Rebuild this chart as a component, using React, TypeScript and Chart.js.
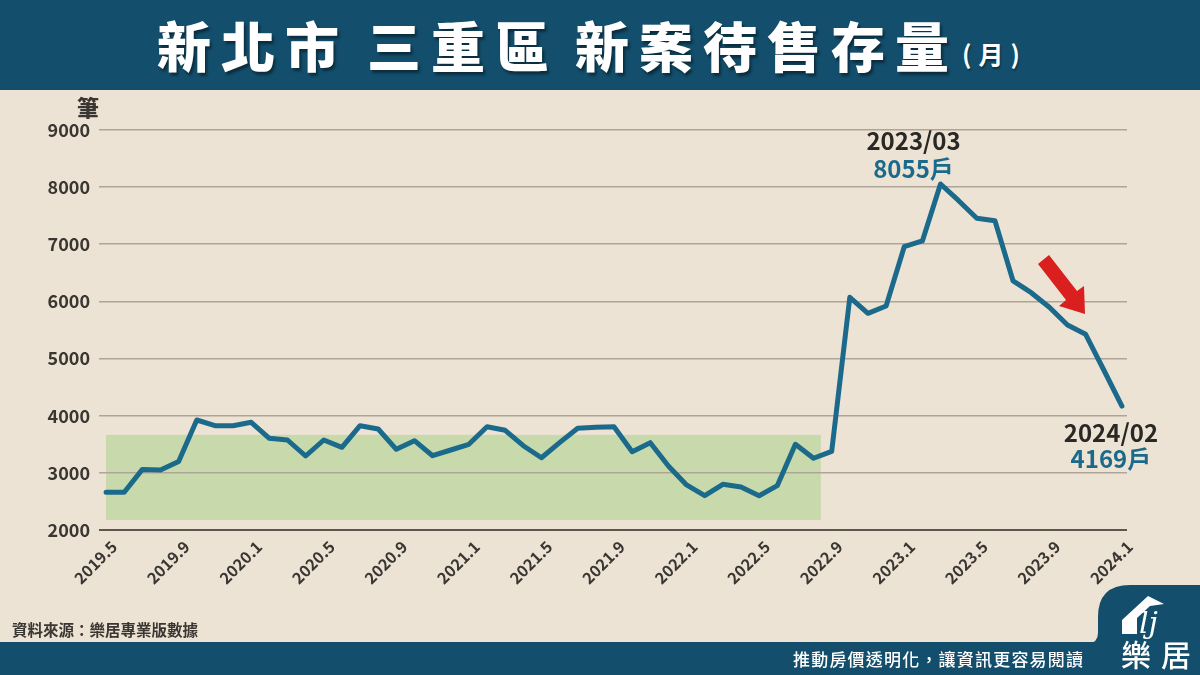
import React, { useEffect, useRef } from 'react';
import { Chart, registerables } from 'chart.js';

Chart.register(...registerables);

// ---------- data ----------
const MONTHS = [
  '2019.5', '2019.6', '2019.7', '2019.8', '2019.9', '2019.10', '2019.11', '2019.12',
  '2020.1', '2020.2', '2020.3', '2020.4', '2020.5', '2020.6', '2020.7', '2020.8', '2020.9', '2020.10', '2020.11', '2020.12',
  '2021.1', '2021.2', '2021.3', '2021.4', '2021.5', '2021.6', '2021.7', '2021.8', '2021.9', '2021.10', '2021.11', '2021.12',
  '2022.1', '2022.2', '2022.3', '2022.4', '2022.5', '2022.6', '2022.7', '2022.8', '2022.9', '2022.10', '2022.11', '2022.12',
  '2023.1', '2023.2', '2023.3', '2023.4', '2023.5', '2023.6', '2023.7', '2023.8', '2023.9', '2023.10', '2023.11', '2023.12',
  '2024.1',
];

const INVENTORY = [
  2660, 2660, 3060, 3050, 3200, 3925, 3825, 3825,
  3885, 3605, 3575, 3295, 3575, 3447, 3825, 3767, 3412, 3563, 3300, 3400,
  3500, 3808, 3745, 3475, 3265, 3528, 3780, 3797, 3808, 3370, 3528, 3120,
  2788, 2600, 2800, 2753, 2600, 2776, 3500, 3255, 3375, 6072, 5792, 5920,
  6958, 7058, 8055, 7763, 7455, 7413, 6358, 6153, 5897, 5588, 5425, 4800,
  4169,
];

const TICK_LABELS = [
  '2019.5', '2019.9', '2020.1', '2020.5', '2020.9', '2021.1', '2021.5', '2021.9',
  '2022.1', '2022.5', '2022.9', '2023.1', '2023.5', '2023.9', '2024.1',
];

const Y_MIN = 2000;
const Y_MAX = 9000;
const Y_STEP = 1000;

// shaded "flat period" band: month-index range and value range
const BAND_X = [0, 39.4];
const BAND_Y = [2175, 3665];

// callouts
const CALLOUT_INDEX = [46, 56];
const CALLOUT_DATES = ['2023/03', '2024/02'];
const CALLOUT_VALUES = [8055, 4169];

// ---------- style ----------
const FONT = '"Noto Sans CJK TC", "Noto Sans", sans-serif';
const BG = '#ece3d5';
const NAVY = '#134f6d';
const LINE = '#1c6a8b';
const TEXT = '#3a3631';
const GRID = '#aea598';
const AXIS = '#5d574f';
const BAND = '#c8daab';

export default function App() {
  const canvasRef = useRef<HTMLCanvasElement | null>(null);

  useEffect(() => {
    document.body.style.margin = '0';
    const canvas = canvasRef.current;
    if (!canvas) return;

    const bandPlugin = {
      id: 'band',
      beforeDraw(chart: any) {
        const { ctx, scales } = chart;
        const x0 = scales.x.getPixelForValue(BAND_X[0]);
        const x1 = scales.x.getPixelForValue(BAND_X[1]);
        const y0 = scales.y.getPixelForValue(BAND_Y[1]);
        const y1 = scales.y.getPixelForValue(BAND_Y[0]);
        ctx.save();
        ctx.fillStyle = BAND;
        ctx.fillRect(x0, y0, x1 - x0, y1 - y0);
        ctx.restore();
      },
    };

    const calloutPlugin = {
      id: 'callouts',
      afterDatasetsDraw(chart: any) {
        const { ctx, scales } = chart;
        ctx.save();
        ctx.textAlign = 'center';
        ctx.textBaseline = 'alphabetic';
        const offsets = [
          { dx: -27, dDate: -34, dVal: -6 },
          { dx: -11, dDate: 36, dVal: 62 },
        ];
        CALLOUT_INDEX.forEach((idx, k) => {
          const px = scales.x.getPixelForValue(idx);
          const py = scales.y.getPixelForValue(INVENTORY[idx]);
          const o = offsets[k];
          ctx.font = `bold 24px ${FONT}`;
          ctx.fillStyle = '#2a2825';
          ctx.fillText(CALLOUT_DATES[k], px + o.dx, py + o.dDate);
          ctx.fillStyle = LINE;
          ctx.fillText(`${CALLOUT_VALUES[k]}戶`, px + o.dx, py + o.dVal);
        });
        ctx.restore();
      },
    };

    const chart = new Chart(canvas, {
      type: 'line',
      data: {
        datasets: [
          {
            data: MONTHS.map((m, i) => ({ x: i, y: INVENTORY[i] })),
            borderColor: LINE,
            borderWidth: 5,
            pointRadius: 0,
            tension: 0,
            borderJoinStyle: 'round',
            borderCapStyle: 'round',
            clip: false,
          } as any,
        ],
      },
      options: {
        animation: false,
        responsive: true,
        maintainAspectRatio: false,
        layout: { padding: { top: 130, right: 73, bottom: 45, left: 0 } },
        plugins: {
          legend: { display: false },
          tooltip: { enabled: false },
        },
        scales: {
          x: {
            type: 'linear',
            min: -0.39,
            max: 56.28,
            afterBuildTicks: (scale: any) => {
              scale.ticks = TICK_LABELS.map((l) => ({ value: MONTHS.indexOf(l) }));
            },
            afterFit: (scale: any) => {
              scale.height = 100;
            },
            ticks: {
              autoSkip: false,
              maxRotation: 45,
              minRotation: 45,
              padding: 7,
              labelOffset: 8,
              color: TEXT,
              font: { family: FONT, size: 16, weight: 'bold' },
              callback: (v: any) => MONTHS[v as number] ?? '',
            },
            grid: { display: false, drawTicks: false },
            border: { display: false },
          },
          y: {
            min: Y_MIN,
            max: Y_MAX,
            afterFit: (scale: any) => {
              scale.width = 99;
            },
            ticks: {
              stepSize: Y_STEP,
              padding: 9,
              color: TEXT,
              font: { family: FONT, size: 18, weight: 'bold' },
              callback: (v: any) => String(v),
            },
            grid: {
              drawTicks: false,
              color: (c: any) => (c.tick && c.tick.value === Y_MIN ? AXIS : GRID),
              lineWidth: (c: any) => (c.tick && c.tick.value === Y_MIN ? 2 : 1.6),
            },
            border: { display: false },
          },
        },
      } as any,
      plugins: [bandPlugin, calloutPlugin],
    });

    return () => chart.destroy();
  }, []);

  const titleStyle: React.CSSProperties = {
    position: 'absolute',
    top: 10,
    fontSize: 54,
    fontWeight: 900,
    color: '#ffffff',
    letterSpacing: 10,
    lineHeight: '70px',
    whiteSpace: 'pre',
    textShadow: '2px 3px 3px rgba(0,0,0,0.45)',
  };

  return (
    <div
      style={{
        position: 'relative',
        width: 1200,
        height: 675,
        background: BG,
        overflow: 'hidden',
        fontFamily: FONT,
      }}
    >
      <div style={{ position: 'absolute', left: 0, top: 0, width: 1200, height: 675 }}>
        <canvas ref={canvasRef} />
      </div>

      {/* header */}
      <div style={{ position: 'absolute', left: 0, top: 0, width: 1200, height: 90, background: NAVY }} />
      <div style={{ ...titleStyle, left: 157 }}>新北市</div>
      <div style={{ ...titleStyle, left: 367 }}>三重區</div>
      <div style={{ ...titleStyle, left: 575 }}>新案待售存量</div>
      <div
        style={{
          position: 'absolute',
          left: 962,
          top: 33,
          fontSize: 25,
          fontWeight: 700,
          color: '#fff',
          letterSpacing: 7,
          lineHeight: '40px',
          whiteSpace: 'pre',
          textShadow: '1px 2px 2px rgba(0,0,0,0.4)',
        }}
      >
        (月)
      </div>

      {/* y unit */}
      <div
        style={{
          position: 'absolute',
          left: 77,
          top: 91,
          fontSize: 22,
          fontWeight: 900,
          color: TEXT,
          lineHeight: '30px',
        }}
      >
        筆
      </div>

      {/* red arrow */}
      <svg style={{ position: 'absolute', left: 0, top: 0 }} width={1200} height={675}>
        <polygon
          points="1049,255 1077,291 1084,286 1085,314 1059,306 1066,300 1038,264"
          fill="#d9201f"
        />
      </svg>

      {/* source */}
      <div
        style={{
          position: 'absolute',
          left: 12,
          top: 617,
          fontSize: 15.5,
          fontWeight: 700,
          color: TEXT,
          lineHeight: '24px',
        }}
      >
        資料來源：樂居專業版數據
      </div>

      {/* footer */}
      <div style={{ position: 'absolute', left: 0, top: 642, width: 1200, height: 33, background: NAVY }} />
      <svg style={{ position: 'absolute', left: 0, top: 0 }} width={1200} height={675}>
        <path d="M1088,643 Q1098,643 1098,633 L1098,617 Q1098,585 1130,585 L1200,585 L1200,643 Z" fill={NAVY} />
        <polygon points="1122,620 1148,596 1164,604 1150,606 1137,618 1137,634 1122,634" fill="#ffffff" />
        <text
          x={1139}
          y={633}
          fill="#ffffff"
          fontFamily='"DejaVu Serif", serif'
          fontStyle="italic"
          fontSize={30}
        >
          lj
        </text>
      </svg>
      <div
        style={{
          position: 'absolute',
          left: 793,
          top: 647,
          fontSize: 17,
          fontWeight: 500,
          color: '#ffffff',
          letterSpacing: 1.2,
          lineHeight: '24px',
          whiteSpace: 'nowrap',
        }}
      >
        推動房價透明化，讓資訊更容易閱讀
      </div>
      <div
        style={{
          position: 'absolute',
          left: 1121,
          top: 635,
          fontSize: 30,
          fontWeight: 500,
          color: '#ffffff',
          letterSpacing: 10,
          lineHeight: '36px',
          whiteSpace: 'nowrap',
        }}
      >
        樂居
      </div>
    </div>
  );
}
